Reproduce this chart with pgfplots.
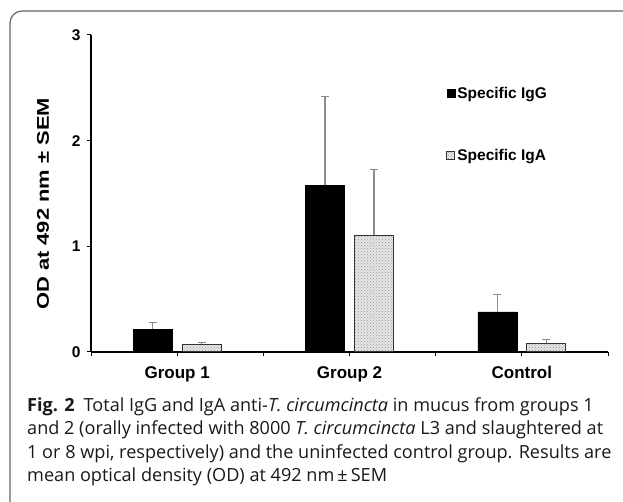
\documentclass[border=0pt]{standalone}
\usepackage{fontspec}
\usepackage{pgfplots}
\pgfplotsset{compat=1.18}
\usetikzlibrary{patterns}
\setmainfont{Liberation Sans}
\newfontfamily\capfont{Open Sans}

\pgfplotstableread{
x   y     e
1   0.215 0.065
2   1.58  0.84
3   0.38  0.165
}\igg
\pgfplotstableread{
x   y     e
1   0.073 0.015
2   1.107 0.62
3   0.082 0.038
}\iga

\begin{document}
\begin{tikzpicture}[x=1pt,y=1pt]
\path[use as bounding box] (0,0) rectangle (623,502);
\draw[black!60, line width=1.2pt, rounded corners=12pt] (10,0) -- (10,491) -- (623,491);
\begin{axis}[
  at={(91pt,150pt)}, anchor=south west,
  scale only axis, width=517pt, height=317pt,
  xmin=0.5, xmax=3.5, ymin=0, ymax=3,
  ybar=10pt, bar width=39pt,
  axis lines*=left,
  axis line style={line width=1.6pt},
  xtick={0.5,1,1.5,2,2.5,3,3.5},
  xticklabels={,Group 1,,Group 2,,Control,},
  ytick={0,1,2,3},
  tick align=outside, major tick length=4pt,
  tick style={black, line width=1pt},
  yticklabel style={font=\fontsize{15.5}{18}\selectfont\bfseries, xshift=-3pt},
  xticklabel style={font=\fontsize{17}{20}\selectfont\bfseries, yshift=-7pt},
  /pgf/number format/assume math mode=true,
  ylabel={\scalebox{1.29}[1]{OD at 492 nm ± SEM}},
  ylabel style={font=\fontsize{17}{20}\selectfont\bfseries, at={(axis description cs:-0.093,0.467)}, rotate=0, anchor=center},
  legend style={draw=none, fill=none, at={(axis description cs:0.687,0.842)}, anchor=north west,
    font=\fontsize{15.5}{18}\selectfont\bfseries, row sep=45pt, inner sep=0pt},
  legend cell align=left,
  legend image code/.code={\draw[#1] (0pt,-4pt) rectangle (8pt,4pt);},
]
\addplot[fill=black, draw=black,
  error bars/.cd, y dir=plus, y explicit,
  error bar style={black!45, line width=1.3pt},
  error mark options={rotate=90, mark size=4pt, black!45, line width=1.3pt}]
  table[x=x, y=y, y error=e]{\igg};
\addlegendentry{Specific IgG}
\addplot[fill=gray!20, draw=black!80, line width=1pt,
  postaction={pattern=crosshatch dots, pattern color=gray!80},
  error bars/.cd, y dir=plus, y explicit,
  error bar style={black!45, line width=1.3pt},
  error mark options={rotate=90, mark size=4pt, black!45, line width=1.3pt}]
  table[x=x, y=y, y error=e]{\iga};
\addlegendentry{Specific IgA}
\end{axis}
\node[anchor=north west, inner sep=0pt, text=black!90,
  font=\capfont\fontsize{18.1}{23.4}\selectfont] at (27,107)
  {\begin{tabular}{@{}l@{}}\textbf{Fig. 2}\enspace Total IgG and IgA anti-\textit{T. circumcincta} in mucus from groups 1\\
   and 2 (orally infected with 8000 \textit{T. circumcincta} L3 and slaughtered at\\
   1 or 8 wpi, respectively) and the uninfected control group. Results are\\
   mean optical density (OD) at 492 nm\,±\,SEM\end{tabular}};
\end{tikzpicture}
\end{document}
